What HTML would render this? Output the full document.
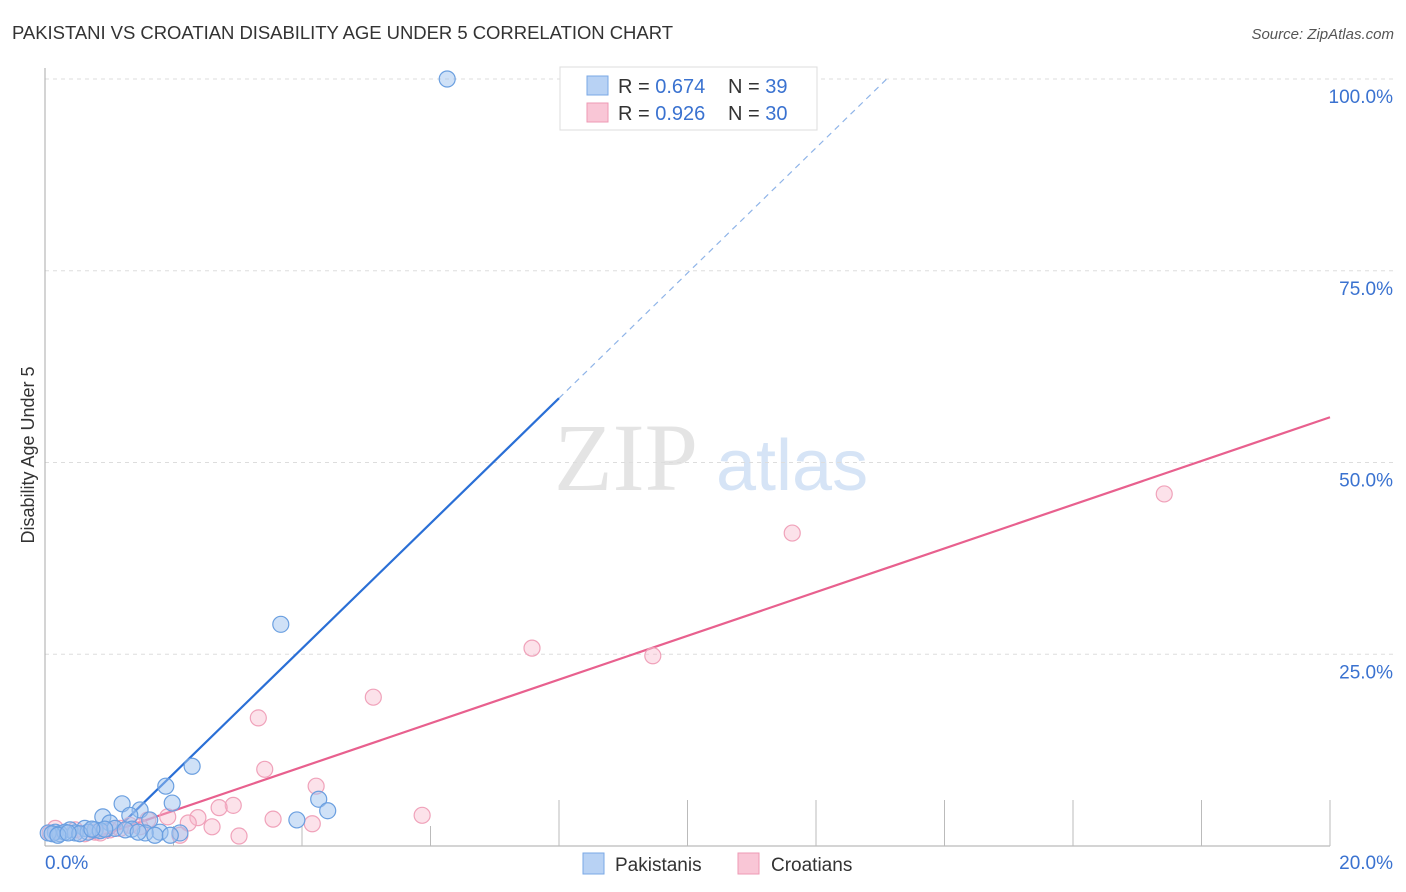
<!DOCTYPE html>
<html><head><meta charset="utf-8"><style>
body{margin:0;background:#fff;font-family:"Liberation Sans",sans-serif}
svg{display:block}
</style></head><body>
<svg id="chart" width="1406" height="892" xmlns="http://www.w3.org/2000/svg">
<text x="12" y="39" font-size="18.5" fill="#333" textLength="661">PAKISTANI VS CROATIAN DISABILITY AGE UNDER 5 CORRELATION CHART</text>
<text x="1394" y="39" font-size="15" fill="#555" text-anchor="end" font-style="italic">Source: ZipAtlas.com</text>
<text x="554" y="490" font-size="96" fill="#e4e4e4" font-family="Liberation Serif,serif">ZIP</text>
<text x="716" y="490" font-size="72" fill="#d6e4f6">atlas</text>
<text transform="translate(34,455) rotate(-90)" font-size="18" fill="#333" text-anchor="middle">Disability Age Under 5</text>
<g id="grid"></g><g id="axes"></g><g id="lines"></g><g id="pts"></g>
<g>
<rect x="560" y="67" width="257" height="63" fill="#fff" stroke="#ddd"/>
<rect x="587" y="76" width="21" height="19" fill="#b8d2f4" stroke="#7aa8e6"/>
<rect x="587" y="103" width="21" height="19" fill="#f9c6d6" stroke="#ee9ab4"/>
<text x="618" y="93" font-size="20" fill="#333">R = <tspan fill="#3a72d0">0.674</tspan></text>
<text x="728" y="93" font-size="20" fill="#333">N = <tspan fill="#3a72d0"> 39</tspan></text>
<text x="618" y="120" font-size="20" fill="#333">R = <tspan fill="#3a72d0">0.926</tspan></text>
<text x="728" y="120" font-size="20" fill="#333">N = <tspan fill="#3a72d0">30</tspan></text>
</g>
<g>
<rect x="583" y="853" width="21" height="21" fill="#b8d2f4" stroke="#7aa8e6"/>
<text x="615" y="871" font-size="19" fill="#333">Pakistanis</text>
<rect x="738" y="853" width="21" height="21" fill="#f9c6d6" stroke="#ee9ab4"/>
<text x="771" y="871" font-size="19" fill="#333">Croatians</text>
</g>
</svg>
<script>
const yTicks=[25,50,75,100];
const yTickLabels=["25.0%","50.0%","75.0%","100.0%"];
const xTicks=[2,4,6,8,10,12,14,16,18,20];
const pakX=[6.26,3.67,2.29,1.88,4.26,1.98,4.40,3.92,1.20,1.48,0.90,1.32,1.63,1.01,1.79,2.10,1.56,0.62,0.39,0.16,0.23,0.05,0.47,0.78,0.31,0.67,0.11,0.86,1.09,1.35,1.71,1.25,0.54,0.93,0.20,0.36,0.73,1.45,1.95];
const pakY=[100,28.9,10.4,7.8,6.1,5.6,4.6,3.4,5.5,4.7,3.8,4.0,3.4,3.0,1.8,1.7,1.7,2.3,2.1,1.8,1.6,1.7,1.7,2.1,1.8,1.8,1.6,2.0,2.3,2.2,1.4,2.1,1.6,2.2,1.4,1.7,2.2,1.8,1.4];
const croX=[17.42,11.63,7.58,9.46,5.11,3.32,3.42,4.22,5.87,2.93,2.71,3.55,4.16,2.38,2.60,3.02,2.23,2.10,1.91,1.60,1.32,1.01,0.78,0.47,0.16,0.08,0.62,1.17,0.86,1.48];
const croY=[45.9,40.8,25.8,24.8,19.4,16.7,10.0,7.8,4.0,5.3,5.0,3.5,2.9,3.7,2.5,1.3,3.0,1.4,3.8,3.4,2.7,2.1,1.8,2.1,2.3,1.7,1.6,2.3,1.7,2.5];
const pakLine=[8.16,-6.9]; // slope, intercept
const croLine=[2.85,-1.1];
const X=v=>45+v*64.25, Y=v=>846-v*7.67;
const NS="http://www.w3.org/2000/svg";
function mk(t,a,p){const e=document.createElementNS(NS,t);for(const k in a)e.setAttribute(k,a[k]);p.appendChild(e);return e;}
const grid=document.getElementById('grid'),axes=document.getElementById('axes'),lines=document.getElementById('lines'),pts=document.getElementById('pts');
yTicks.forEach((t,i)=>{
 const l=mk('line',{x1:45,x2:1394,y1:Y(t),y2:Y(t),stroke:'#ddd','stroke-dasharray':'4,4'},grid);
 
 
 const tx=mk('text',{x:1393,y:Y(t)+24,'font-size':19,fill:'#3a72d0','text-anchor':'end'},grid);
 tx.textContent=yTickLabels[i];
 
 
});
const ax=mk('line',{x1:45,x2:1330,y1:846,y2:846,stroke:'#aaa'},axes);


const ay=mk('line',{x1:45,x2:45,y1:68,y2:846,stroke:'#aaa'},axes);


xTicks.forEach(t=>{
 const l=mk('line',{x1:X(t),x2:X(t),y1:t>=8?800:826,y2:846,stroke:'#bbb'},axes);
 
 
});
const x0=mk('text',{x:45,y:869,'font-size':19,fill:'#3a72d0'},axes);x0.textContent='0.0%';


const x1=mk('text',{x:1393,y:869,'font-size':19,fill:'#3a72d0','text-anchor':'end'},axes);x1.textContent='20.0%';


function drawPts(xs,ys,fill,stroke,name){xs.forEach((v,i)=>{
 const c=mk('circle',{cx:X(v),cy:Y(ys[i]),r:8,fill:fill,stroke:stroke,'stroke-width':1.2},pts);
 
 
});}
drawPts(croX,croY,'rgba(248,182,202,0.4)','#f0a2ba','croatian-point');
drawPts(pakX,pakY,'rgba(160,196,240,0.5)','#6a9fe0','pakistani-point');
const f=(l,x)=>l[0]*x+l[1];
const bx0=(1-pakLine[1])/pakLine[0], bx1=8, bx2=(100-pakLine[1])/pakLine[0];
const bl=mk('line',{x1:X(bx0),y1:Y(f(pakLine,bx0)),x2:X(bx1),y2:Y(f(pakLine,bx1)),stroke:'#2a6fd6','stroke-width':2.2},lines);


const bd=mk('line',{x1:X(bx1),y1:Y(f(pakLine,bx1)),x2:X(bx2),y2:Y(f(pakLine,bx2)),stroke:'#8fb4e8','stroke-width':1.2,'stroke-dasharray':'6,5'},lines);


const px0=0.7;
const pl=mk('line',{x1:X(px0),y1:Y(f(croLine,px0)),x2:X(20),y2:Y(f(croLine,20)),stroke:'#e8608e','stroke-width':2.2},lines);


</script>
</body></html>
